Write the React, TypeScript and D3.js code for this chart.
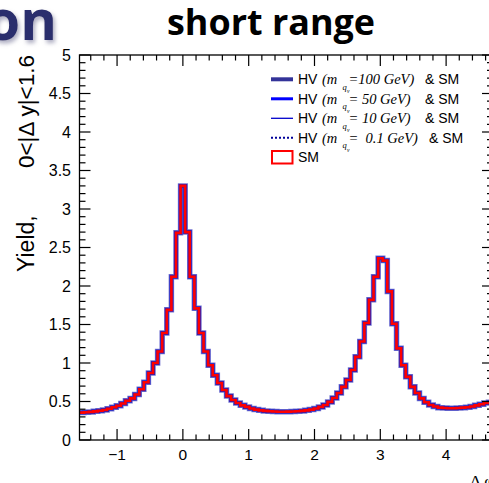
import React from "react";
import * as d3 from "d3";

// ---- data ----
const X_MIN = -Math.PI / 2;
const X_MAX = (3 * Math.PI) / 2;
const smYield = [
  0.356, 0.36, 0.365, 0.372, 0.38, 0.39, 0.405, 0.425, 0.445, 0.475, 0.51, 0.54, 0.59, 0.66, 0.75, 0.87, 1.0, 1.15, 1.39, 1.69, 2.12, 2.69, 3.3,
  2.7, 2.12, 1.71, 1.39, 1.15, 0.97, 0.84, 0.74, 0.65, 0.57, 0.52, 0.48, 0.45, 0.43, 0.41, 0.395, 0.385, 0.378, 0.373, 0.37,
  0.367, 0.367, 0.368, 0.37, 0.373, 0.378, 0.385, 0.395, 0.41, 0.43, 0.455, 0.495, 0.545, 0.61, 0.69, 0.78, 0.91, 1.08, 1.28, 1.52, 1.82, 2.12,
  2.36, 2.33, 1.93, 1.51, 1.19, 0.97, 0.82, 0.69, 0.61, 0.54, 0.49, 0.455, 0.435, 0.42, 0.415, 0.412, 0.412, 0.415, 0.42, 0.425, 0.435, 0.45, 0.465, 0.48, 0.49,
];
const hv100Yield = smYield.slice();
const hv50Yield = smYield.slice();
const hv10Yield = smYield.slice();
const hv01Yield = smYield.slice();
const xTickValues = [-1, 0, 1, 2, 3, 4];
const yTickValues = [0, 0.5, 1, 1.5, 2, 2.5, 3, 3.5, 4, 4.5, 5];
const legendMasses = ["=100 GeV)", "= 50 GeV)", "= 10 GeV)", "=  0.1 GeV)"];
const titleText = "short range";
const yTitleA = "Yield,";
const yTitleB = "0<|\u0394 y|<1.6";

const W = 489;
const H = 483;
const PL = 79.5, PR = 493, PT = 55, PB = 440;

export default function App() {
  const x = d3.scaleLinear().domain([X_MIN, X_MAX]).range([PL, PR]);
  const y = d3.scaleLinear().domain([0, 5]).range([PB, PT]);
  const n = smYield.length;
  const binW = (X_MAX - X_MIN) / n;

  const histPath = (vals: number[]) => {
    const pts: [number, number][] = vals.map((v, i) => [X_MIN + i * binW, v]);
    pts.push([X_MAX, vals[vals.length - 1]]);
    return d3
      .line<[number, number]>()
      .x((d) => x(d[0]))
      .y((d) => y(d[1]))
      .curve(d3.curveStepAfter)(pts) as string;
  };

  const xMinor = d3.range(-1.4, 4.81, 0.2).map((v) => Math.round(v * 10) / 10).filter((v) => v > X_MIN && v < X_MAX);
  const yMinor = d3.range(0, 5.001, 0.1).map((v) => Math.round(v * 10) / 10);

  const sans = "'Liberation Sans', Arial, Helvetica, sans-serif";
  const serif = "'Liberation Serif', 'Times New Roman', serif";

  const legendX0 = 271, legendX1 = 293;
  const rowY = [79.3, 98.8, 118.3, 137.8, 157];
  const lineStyles = [
    { stroke: "#333399", w: 4, dash: undefined as string | undefined },
    { stroke: "#0000ff", w: 3, dash: undefined },
    { stroke: "#0000cc", w: 1.3, dash: undefined },
    { stroke: "#000099", w: 2, dash: "2,2" },
  ];

  return (
    <svg
      width={W}
      height={H}
      style={{ position: "absolute", left: 0, top: 0, background: "#fff" }}
    >
      <defs>
        <clipPath id="plotClip">
          <rect x={PL} y={PT} width={PR - PL} height={PB - PT} />
        </clipPath>
        <filter id="shadow" x="-20%" y="-20%" width="140%" height="140%">
          <feDropShadow dx="2" dy="3" stdDeviation="2" floodColor="#8a8aa8" floodOpacity="0.7" />
        </filter>
      </defs>

      {/* partial slide title */}
      <text x={57} y={40} textAnchor="end" fontFamily="'Open Sans', sans-serif" fontWeight={700} fontSize={56} fill="#2c2f6d" filter="url(#shadow)">
        on
      </text>
      <text x={271} y={35} textAnchor="middle" fontFamily="'Open Sans', sans-serif" fontWeight={700} fontSize={35} fill="#000" textLength={208} lengthAdjust="spacingAndGlyphs">
        {titleText}
      </text>

      {/* histograms */}
      <g clipPath="url(#plotClip)" fill="none" strokeLinejoin="miter">
        <path d={histPath(hv100Yield)} stroke="#7474d0" strokeWidth={5.5} />
        <path d={histPath(hv50Yield)} stroke="#2020c0" strokeWidth={4} />
        <path d={histPath(hv10Yield)} stroke="#0000aa" strokeWidth={1} />
        <path d={histPath(hv01Yield)} stroke="#000099" strokeWidth={1} strokeDasharray="2,2" />
        <path d={histPath(smYield)} stroke="#ff0000" strokeWidth={2.6} />
      </g>

      {/* frame */}
      <rect x={PL} y={PT} width={PR - PL} height={PB - PT} fill="none" stroke="#000" strokeWidth={1.3} />

      {/* x ticks bottom & top */}
      {xMinor.map((v) => {
        const major = xTickValues.includes(v);
        const L = major ? 11 : 5.5;
        return (
          <g key={"xt" + v}>
            <line x1={x(v)} x2={x(v)} y1={PB} y2={PB - L} stroke="#000" strokeWidth={1.2} />
            <line x1={x(v)} x2={x(v)} y1={PT} y2={PT + L} stroke="#000" strokeWidth={1.2} />
          </g>
        );
      })}
      {xTickValues.map((v) => (
        <text key={"xl" + v} x={x(v)} y={459.5} textAnchor="middle" fontFamily={sans} fontSize={15.5} fill="#000">
          {v < 0 ? "\u2212" + Math.abs(v) : v}
        </text>
      ))}

      {/* y ticks left & right */}
      {yMinor.map((v) => {
        const major = Math.abs(v * 2 - Math.round(v * 2)) < 1e-6;
        const L = major ? 11 : 6;
        return (
          <g key={"yt" + v}>
            <line x1={PL} x2={PL + L} y1={y(v)} y2={y(v)} stroke="#000" strokeWidth={1.2} />
            <line x1={PR} x2={PR - L} y1={y(v)} y2={y(v)} stroke="#000" strokeWidth={1.2} />
          </g>
        );
      })}
      {yTickValues.map((v) => (
        <text key={"yl" + v} x={71} y={y(v) + 5.5} textAnchor="end" fontFamily={sans} fontSize={16} fill="#000">
          {v}
        </text>
      ))}

      {/* y title */}
      <g transform="translate(34,0) rotate(-90)">
        <text x={-272} y={0} textAnchor="start" fontFamily={sans} fontSize={23} fill="#000">
          {yTitleA}
        </text>
        <text x={-55} y={0} textAnchor="end" fontFamily={sans} fontSize={22.5} fill="#000">
          {yTitleB}
        </text>
      </g>

      {/* x title (cropped) */}
      <text x={470} y={487} fontFamily={serif} fontSize={17} fill="#000">
        {"\u0394 \u03c6"}
      </text>

      {/* legend */}
      {legendMasses.map((m, i) => {
        const ly = rowY[i];
        const st = lineStyles[i];
        return (
          <g key={"lg" + i}>
            <line x1={legendX0} x2={legendX1} y1={ly} y2={ly} stroke={st.stroke} strokeWidth={st.w} strokeDasharray={st.dash} />
            <text x={298} y={ly + 5} fontFamily={sans} fontSize={14} fill="#000">HV</text>
            <text x={322} y={ly + 5} fontFamily={serif} fontStyle="italic" fontSize={14.5} fill="#000">(m</text>
            <text x={342.5} y={ly + 10.5} fontFamily={serif} fontStyle="italic" fontSize={8.5} fill="#000">q</text>
            <text x={347} y={ly + 14} fontFamily={serif} fontStyle="italic" fontSize={5.5} fill="#000">v</text>
            <text x={348.5} y={ly + 5} fontFamily={serif} fontStyle="italic" fontSize={14.5} fill="#000" style={{ whiteSpace: "pre" }}>
              {m}
            </text>
            <text x={i === 3 ? 429 : 425} y={ly + 5} fontFamily={sans} fontSize={14} fill="#000">&amp; SM</text>
          </g>
        );
      })}
      <rect x={272} y={151} width={20.5} height={12.5} fill="#fff" stroke="#ff0000" strokeWidth={2} />
      <text x={298} y={rowY[4] + 5} fontFamily={sans} fontSize={14} fill="#000">SM</text>
    </svg>
  );
}
